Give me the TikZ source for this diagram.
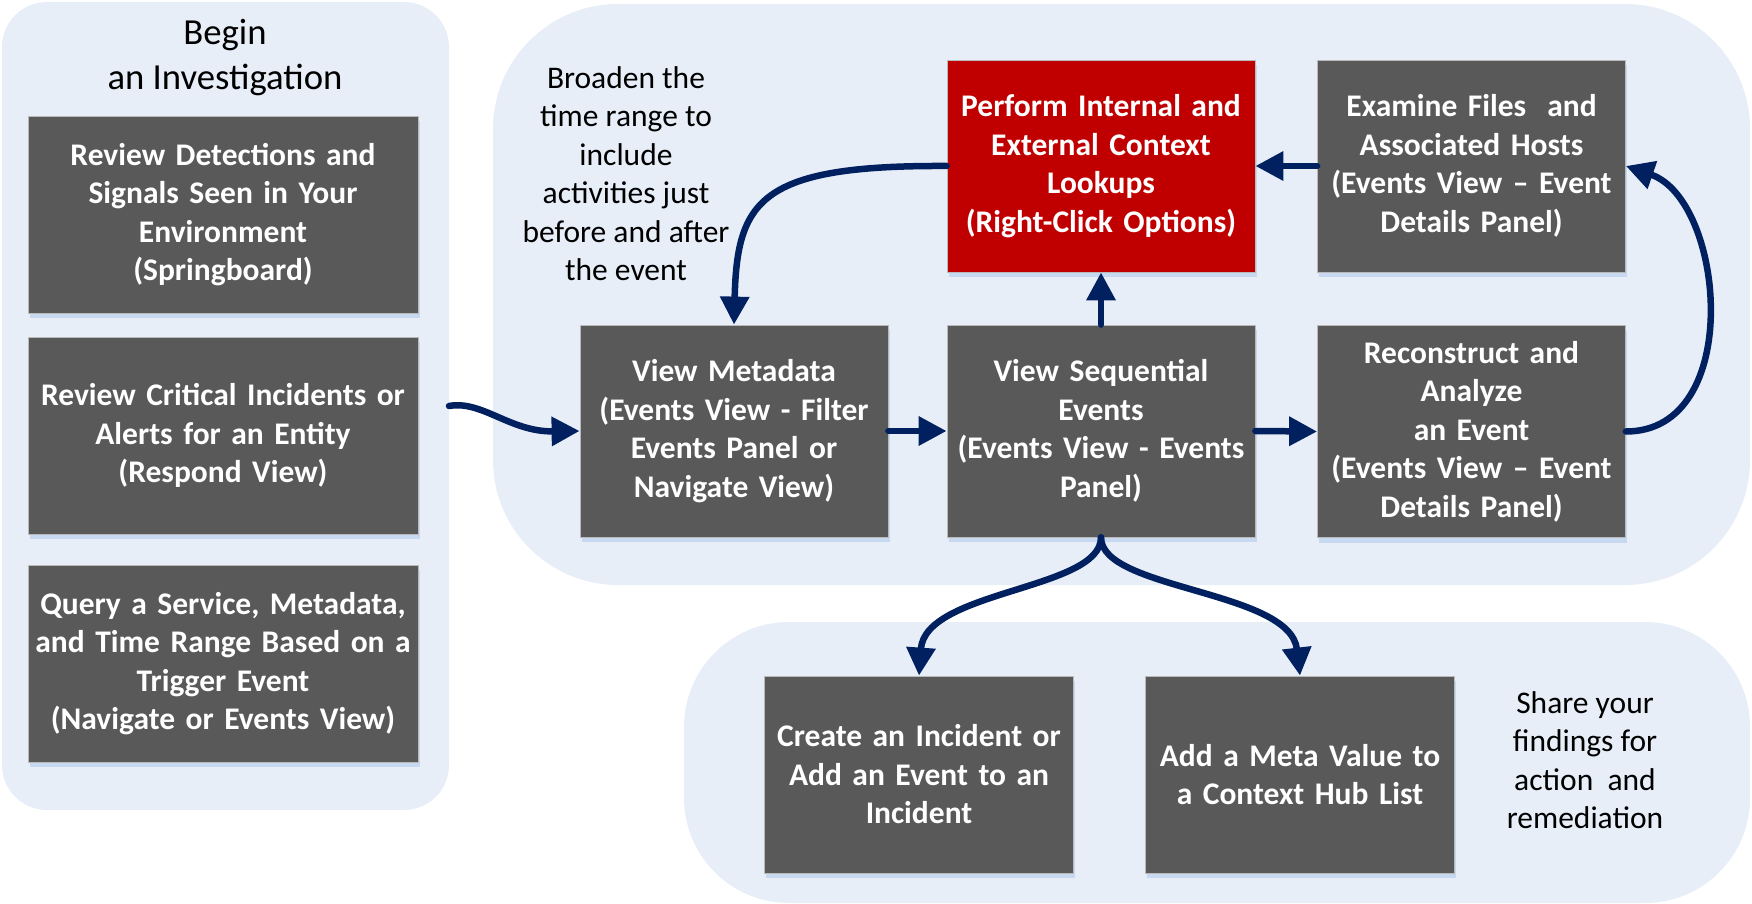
\documentclass[tikz,border=0pt]{standalone}
\usepackage{fontspec}
\setmainfont{Carlito}
\usetikzlibrary{arrows.meta,calc,shadows}
\definecolor{panel}{HTML}{E7EEF8}
\definecolor{boxgray}{HTML}{595959}
\definecolor{boxred}{HTML}{C00000}
\definecolor{navy}{HTML}{002060}
\definecolor{shadowblue}{HTML}{C6D9F1}
\newcommand{\boxfont}{\fontsize{31.5}{38.5}\selectfont\bfseries}
\newcommand{\notefont}{\fontsize{31.5}{38.5}\selectfont}
\begin{document}
\begin{tikzpicture}[x=1pt,y=1pt,
  panelshape/.style={fill=panel, draw=none},
  gbox/.style={fill=boxgray, draw=gray!55, line width=0.8pt, text=white,
    font=\boxfont, align=center, inner sep=0pt,
    general shadow={fill=shadowblue, shadow xshift=1.5pt, shadow yshift=-5pt}},
  leftbox/.style={gbox, minimum width=390pt, minimum height=197pt, text width=386pt},
  midbox/.style={gbox, minimum width=308pt, minimum height=212pt, text width=304pt},
  lowbox/.style={gbox, minimum width=309pt, minimum height=197pt, text width=304pt},
  note/.style={font=\notefont, align=center, inner sep=0pt, text=black},
  arr/.style={draw=navy, line width=6.5pt, line cap=round,
    -{Triangle[length=28pt,width=28pt]}}
]
\useasboundingbox (0,0) rectangle (1752,-904);
% panels
\fill[panelshape, rounded corners=45pt] (2,-2) rectangle (449,-810);
\fill[panelshape, rounded corners=125pt] (493,-4) rectangle (1750,-585);
\fill[panelshape, rounded corners=105pt] (684,-622) rectangle (1750,-903);

% labels
\node[note, font=\fontsize{36.7}{45}\selectfont] (begin) at (225,-57.5) {Begin\\an Investigation};
\node[note] (broaden) at (626,-173.5) {Broaden the\\time range to\\include\\activities just\\before and after\\the event};
\node[note] (share) at (1585,-760) {Share your\\findings for\\action\ \ and\\remediation};

% left boxes
\node[leftbox] (b1) at (223,-214.5) {Review Detections and\\Signals Seen in Your\\Environment\\(Springboard)};
\node[leftbox] (b2) at (223,-435.5) {Review Critical Incidents or\\Alerts for an Entity\\(Respond View)};
\node[leftbox] (b3) at (223,-663.5) {Query a Service, Metadata,\\and Time Range Based on a\\Trigger Event\\(Navigate or Events View)};

% middle boxes
\node[midbox] (meta) at (734,-431) {View Metadata\\(Events View - Filter\\Events Panel or\\Navigate View)};
\node[midbox] (seq) at (1101,-431) {View Sequential\\Events\\(Events View - Events\\Panel)};
\node[midbox] (rec) at (1471.5,-431.5) {Reconstruct and\\Analyze\\an Event\\(Events View -- Event\\Details Panel)};
\node[midbox, fill=boxred] (red) at (1101,-166) {Perform Internal and\\External Context\\Lookups\\(Right-Click Options)};
\node[midbox] (exam) at (1471.5,-166) {Examine Files\ \ and\\Associated Hosts\\(Events View -- Event\\Details Panel)};

% lower boxes
\node[lowbox] (create) at (919,-774.5) {Create an Incident or\\Add an Event to an\\Incident};
\node[lowbox] (addm) at (1300,-774.5) {Add a Meta Value to\\a Context Hub List};

% connectors
\coordinate (wstart) at (449,-406);
\draw[arr] (wstart) .. controls (482,-400) and (510,-432) .. (meta.west);
\draw[arr] (meta.east) -- (seq.west);
\draw[arr] (seq.east) -- (rec.west);
\draw[arr] (seq.north) -- (red.south);
\draw[arr] (exam.west) -- (red.east);
\draw[arr] (rec.east) .. controls (1745,-431.5) and (1725,-200) .. (exam.east);
\draw[arr] (red.west) .. controls (760,-165) and (737,-200) .. (meta.north);
\draw[arr] (seq.south) .. controls (1101,-590) and (925,-590) .. (create.north);
\draw[arr] (seq.south) .. controls (1101,-590) and (1290,-590) .. (addm.north);
\end{tikzpicture}
\end{document}
